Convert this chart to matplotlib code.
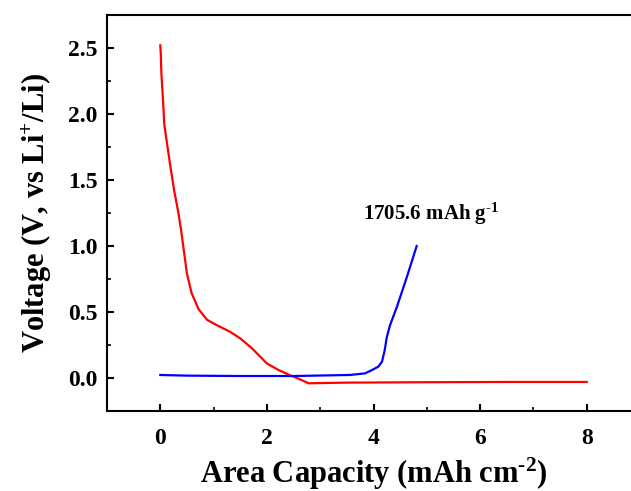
import matplotlib
matplotlib.use("Agg")
import matplotlib.pyplot as plt
from matplotlib.ticker import MultipleLocator, FormatStrFormatter

plt.rcParams['font.family'] = ['Liberation Serif', 'DejaVu Serif']
plt.rcParams['mathtext.fontset'] = 'custom'
plt.rcParams['mathtext.rm'] = 'Liberation Serif:bold'
plt.rcParams['mathtext.it'] = 'Liberation Serif:bold'
plt.rcParams['mathtext.bf'] = 'Liberation Serif:bold'

# Discharge (red)
dis_cap = [0.0, 0.01, 0.02, 0.05, 0.075, 0.125, 0.19, 0.26, 0.34, 0.39, 0.44, 0.50,
           0.59, 0.72, 0.88, 1.06, 1.31, 1.50, 1.72, 2.0, 2.22, 2.44, 2.62, 2.78,
           3.5, 5.0, 6.5, 8.0]
dis_v = [2.52, 2.45, 2.31, 2.11, 1.92, 1.78, 1.60, 1.42, 1.25, 1.12, 0.97, 0.79,
         0.64, 0.52, 0.44, 0.40, 0.35, 0.30, 0.225, 0.11, 0.06, 0.02, -0.01, -0.04,
         -0.035, -0.032, -0.03, -0.03]

# Charge (blue)
ch_cap = [0.0, 0.5, 1.5, 2.5, 3.56, 3.84, 3.97, 4.09, 4.16, 4.21, 4.25, 4.31,
          4.44, 4.63, 4.81]
ch_v = [0.023, 0.018, 0.015, 0.015, 0.023, 0.035, 0.06, 0.086, 0.124, 0.21, 0.31,
        0.40, 0.54, 0.77, 1.0]

annotation = "1705.6 mAh g$^{\\text{-1}}$"

fig = plt.figure(figsize=(6.31, 4.91), dpi=100)
ax = fig.add_axes([107/631, 1 - 411/491, (640 - 107)/631, (411 - 15)/491])

ax.plot(dis_cap, dis_v, color='#ff0000', lw=1.6, solid_joinstyle='round')
ax.plot(ch_cap, ch_v, color='#0000ff', lw=1.6, solid_joinstyle='round')

ax.set_xlim(-1, 9)
ax.set_ylim(-0.25, 2.75)
ax.xaxis.set_major_locator(MultipleLocator(2))
ax.xaxis.set_minor_locator(MultipleLocator(1))
ax.yaxis.set_major_locator(MultipleLocator(0.5))
ax.yaxis.set_minor_locator(MultipleLocator(0.25))
ax.yaxis.set_major_formatter(FormatStrFormatter('%.1f'))
ax.tick_params(which='major', direction='in', length=5, width=1.5, labelsize=17, pad=7)
ax.tick_params(axis='x', which='major', pad=12)
ax.tick_params(which='minor', direction='in', length=3, width=1.2)
for lab in ax.get_xticklabels() + ax.get_yticklabels():
    lab.set_fontweight('bold')
for s in ax.spines.values():
    s.set_linewidth(1.5)

ax.set_xlabel("Area Capacity (mAh cm$^{\\text{-2}}$)", fontsize=22, fontweight='bold', labelpad=5)
ax.set_ylabel("Voltage (V, vs Li$^{\\text{+}}$/Li)", fontsize=22, fontweight='bold', labelpad=10)

ax.text(5.08, 1.24, annotation, fontsize=15, fontweight='bold', ha='center', va='center')

fig.savefig("out.png", dpi=100)
